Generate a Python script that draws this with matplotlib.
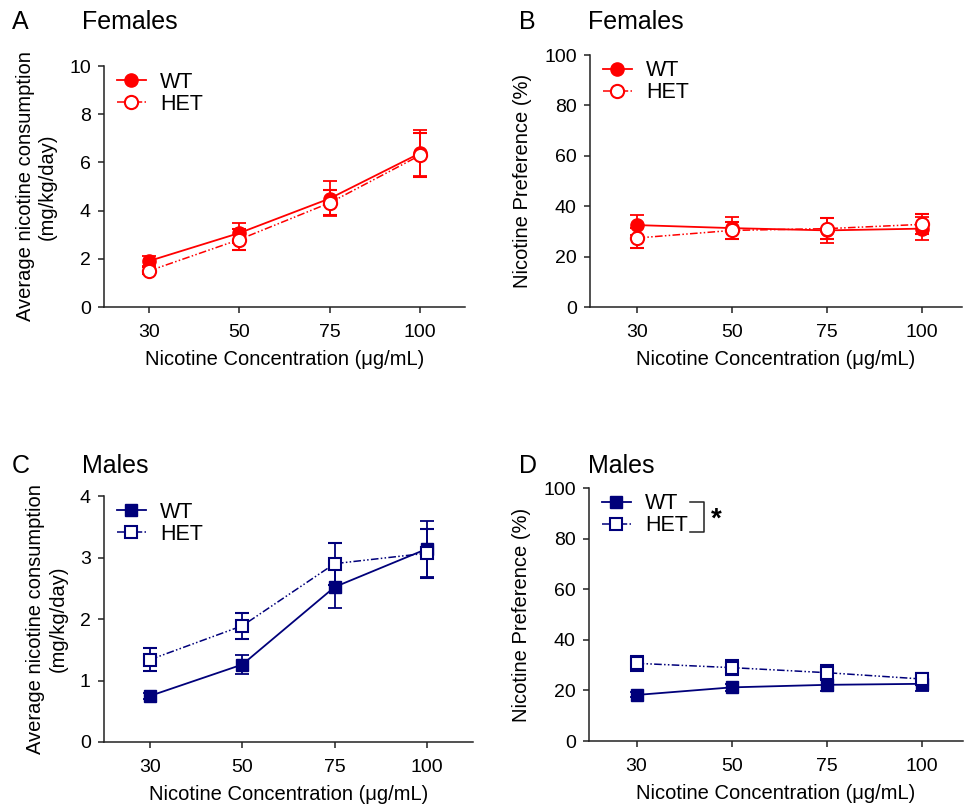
import matplotlib
matplotlib.use("Agg")
import matplotlib.pyplot as plt
from matplotlib.lines import Line2D

plt.rcParams['font.family'] = ['Liberation Sans', 'DejaVu Sans']

conc = ['30', '50', '75', '100']

# panel A: females consumption
fA_wt = [1.91, 3.07, 4.50, 6.38]
fA_wt_err = [0.21, 0.42, 0.74, 0.96]
fA_het = [1.50, 2.80, 4.32, 6.29]
fA_het_err = [0.15, 0.44, 0.52, 0.91]

# panel B: females preference
fB_wt = [32.5, 31.3, 30.4, 31.1]
fB_wt_err = [4.0, 4.4, 5.0, 4.6]
fB_het = [27.4, 30.4, 31.1, 32.8]
fB_het_err = [4.1, 3.3, 4.3, 4.0]

# panel C: males consumption
mC_wt = [0.75, 1.26, 2.52, 3.14]
mC_wt_err = [0.05, 0.15, 0.34, 0.46]
mC_het = [1.34, 1.89, 2.90, 3.07]
mC_het_err = [0.19, 0.21, 0.34, 0.40]

# panel D: males preference
mD_wt = [18.2, 21.2, 22.2, 22.6]
mD_wt_err = [1.0, 1.5, 2.5, 2.8]
mD_het = [30.7, 29.0, 27.0, 24.5]
mD_het_err = [2.9, 3.0, 3.0, 2.5]

RED = '#ff0000'
NAVY = '#00007a'
HET_LS = (0, (5, 1.5, 1, 1.5, 1, 1.5))
W, H = 964, 808

fig = plt.figure(figsize=(W / 100, H / 100), dpi=100)


def box(l, r, t, b):
    return [l / W, 1 - b / H, (r - l) / W, (b - t) / H]


def panel(rect, wt, wte, het, hete, color, marker, ylim, yticks, ylabel, xr):
    ax = fig.add_axes(rect)
    x = list(range(len(conc)))
    ms = 9.5 if marker == 'o' else 8.8
    ax.errorbar(x, wt, yerr=wte, color=color, marker=marker, ms=ms, mfc=color,
                mec=color, lw=1.3, elinewidth=1.3, capsize=5, capthick=1.3,
                zorder=3)
    ax.errorbar(x, het, yerr=hete, color=color, marker=marker, ms=ms, mfc='white',
                mec=color, mew=1.5, lw=1.1, ls=HET_LS,
                elinewidth=1.3, capsize=5, capthick=1.3, zorder=4)
    ax.set_xlim(-0.5, xr)
    ax.set_ylim(*ylim)
    ax.set_yticks(yticks)
    ax.set_xticks(x)
    ax.set_xticklabels(conc)
    for s in ['top', 'right']:
        ax.spines[s].set_visible(False)
    for s in ['left', 'bottom']:
        ax.spines[s].set_linewidth(1.1)
        ax.spines[s].set_color('#222222')
    ax.tick_params(labelsize=14, width=1.1, length=4.5, color='#222222')
    ax.tick_params(axis='x', pad=8)
    ax.tick_params(axis='y', pad=5)
    ax.set_xlabel('Nicotine Concentration (\u03bcg/mL)', fontsize=14.5, labelpad=6)
    ax.set_ylabel(ylabel, fontsize=14.5, labelpad=9, linespacing=1.2)
    handles = [
        Line2D([], [], color=color, marker=marker, ms=ms, mfc=color, mec=color, lw=1.3),
        Line2D([], [], color=color, marker=marker, ms=ms, mfc='white', mec=color,
               mew=1.5, lw=1.1, ls=HET_LS),
    ]
    ax.legend(handles, ['WT', 'HET'], loc='upper left', bbox_to_anchor=(0.0, 1.03),
              frameon=False, fontsize=15.5, handlelength=1.35, handletextpad=0.65,
              borderaxespad=0.2, labelspacing=0.05)
    return ax


cons_lab = 'Average nicotine consumption\n(mg/kg/day)'
pref_lab = 'Nicotine Preference (%)'

axA = panel(box(104, 465, 66, 307), fA_wt, fA_wt_err, fA_het, fA_het_err, RED, 'o',
            (0, 10), [0, 2, 4, 6, 8, 10], cons_lab, 3.5)
axB = panel(box(590, 962, 55, 307), fB_wt, fB_wt_err, fB_het, fB_het_err, RED, 'o',
            (0, 100), [0, 20, 40, 60, 80, 100], pref_lab, 3.42)
axC = panel(box(104, 473, 496, 742), mC_wt, mC_wt_err, mC_het, mC_het_err, NAVY, 's',
            (0, 4), [0, 1, 2, 3, 4], cons_lab, 3.5)
axD = panel(box(589, 963, 488, 741), mD_wt, mD_wt_err, mD_het, mD_het_err, NAVY, 's',
            (0, 100), [0, 20, 40, 60, 80, 100], pref_lab, 3.43)

# panel letters and titles
for letter, title, lx, tx, y in [('A', 'Females', 12, 82, 22), ('B', 'Females', 519, 588, 22),
                                 ('C', 'Males', 12, 82, 466), ('D', 'Males', 519, 588, 466)]:
    fig.text(lx / W, 1 - y / H, letter, fontsize=18, va='center', ha='left')
    fig.text(tx / W, 1 - y / H, title, fontsize=18, va='center', ha='left')

# significance bracket in D
bx0, bx1, by0, by1 = 690 / W, 704 / W, 1 - 502 / H, 1 - 532 / H
fig.add_artist(plt.Line2D([bx0, bx1, bx1, bx0], [by0, by0, by1, by1],
                          color='#222222', lw=1.1, transform=fig.transFigure))
fig.text(711 / W, 1 - 520 / H, '*', fontsize=20, fontweight='bold', va='center', ha='left')

fig.savefig('out.png', dpi=100)
